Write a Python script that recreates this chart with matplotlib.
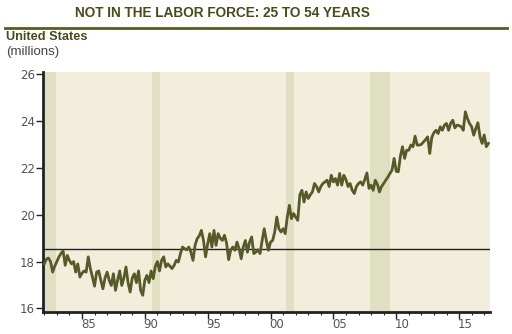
import numpy as np
import matplotlib.pyplot as plt
from matplotlib.ticker import MultipleLocator

# bi-monthly readings (millions), Jan 1982 onwards
start_year = 1982
vals = [
    17.9, 18.1, 18.15, 18.0, 17.55, 17.8,      # 1982
    18.0, 18.2, 18.35, 18.45, 17.84, 18.26,    # 1983
    18.05, 17.9, 18.0, 17.55, 17.9, 17.34,     # 1984
    17.5, 17.6, 17.55, 18.2, 17.7, 17.34,      # 1985
    16.95, 17.55, 17.6, 17.2, 16.84, 17.3,     # 1986
    17.55, 17.2, 16.98, 17.48, 16.77, 17.2,    # 1987
    17.6, 16.98, 17.3, 17.77, 17.1, 16.7,      # 1988
    17.3, 17.48, 17.1, 17.6, 16.77, 16.56,     # 1989
    17.2, 17.41, 17.1, 17.6, 17.27, 17.8,      # 1990
    18.0, 17.6, 18.05, 18.2, 17.77, 17.9,      # 1991
    17.8, 17.7, 17.84, 18.05, 17.98, 18.34,    # 1992
    18.62, 18.55, 18.5, 18.62, 18.4, 18.05,    # 1993
    18.7, 18.98, 19.1, 19.33, 18.9, 18.2,      # 1994
    18.76, 19.19, 18.62, 19.33, 18.69, 19.19,  # 1995
    19.0, 18.9, 19.12, 18.8, 18.08, 18.5,      # 1996
    18.62, 18.48, 18.83, 18.55, 18.12, 18.62,  # 1997
    18.9, 18.4, 18.83, 19.05, 18.34, 18.4,     # 1998
    18.5, 18.34, 18.9, 19.4, 18.9, 18.48,      # 1999
    18.83, 18.9, 19.26, 19.9, 19.4, 19.26,     # 2000
    19.4, 19.19, 19.9, 20.4, 19.83, 20.05,     # 2001
    19.9, 19.76, 20.85, 21.04, 20.54, 20.97,   # 2002
    20.69, 20.85, 20.97, 21.33, 21.2, 20.97,   # 2003
    21.2, 21.33, 21.4, 21.47, 21.2, 21.68,     # 2004
    21.4, 21.54, 21.26, 21.76, 21.26, 21.68,   # 2005
    21.5, 21.2, 21.33, 21.04, 20.9, 21.2,      # 2006
    21.33, 21.4, 21.26, 21.5, 21.78, 21.12,    # 2007
    21.26, 21.04, 21.47, 21.3, 20.97, 21.2,    # 2008
    21.33, 21.47, 21.6, 21.76, 21.9, 22.4,     # 2009
    21.85, 21.83, 22.5, 22.9, 22.4, 22.75,     # 2010
    22.75, 22.97, 22.9, 23.35, 22.97, 22.97,   # 2011
    23.0, 23.1, 23.2, 23.32, 22.61, 23.3,      # 2012
    23.5, 23.6, 23.46, 23.75, 23.6, 23.82,     # 2013
    23.89, 23.6, 23.9, 24.03, 23.7, 23.82,     # 2014
    23.8, 23.75, 23.6, 24.39, 24.1, 23.89,     # 2015
    23.75, 23.39, 23.68, 23.92, 23.32, 23.04,  # 2016
    23.4, 22.9, 23.04,                         # 2017
]
years = start_year + np.arange(len(vals)) / 6.0

# recessions (start, end)
rec_start = [1981.5, 1990.55, 2001.2, 2007.95]
rec_end = [1982.9, 1991.2, 2001.9, 2009.5]
ref_level = 18.54

tick_years = [1985, 1990, 1995, 2000, 2005, 2010, 2015]
tick_labels = ['85', '90', '95', '00', '05', '10', '15']

olive = '#4b4a1c'
bg = '#f3eedc'
rec_col = '#dfe0c1'
line_col = '#555a28'

fig = plt.figure(figsize=(5.12, 3.34), dpi=100)
ax = fig.add_axes([0.084, 0.066, 0.874, 0.718])
ax.set_facecolor(bg)

for a, b in zip(rec_start, rec_end):
    ax.axvspan(a, b, color=rec_col, lw=0, zorder=1)
ax.axhline(ref_level, color='#222222', lw=1.0, zorder=2)
ax.plot(years, vals, color=line_col, lw=2.0, zorder=3)

ax.set_xlim(1981.9, 2017.5)
ax.set_ylim(15.85, 26.08)
ax.set_yticks([16, 18, 20, 22, 24, 26])
ax.set_xticks(tick_years)
ax.set_xticklabels([])
ax.xaxis.set_minor_locator(MultipleLocator(1))

for s in ['top', 'right']:
    ax.spines[s].set_visible(False)
for s in ['left', 'bottom']:
    ax.spines[s].set_linewidth(2)
    ax.spines[s].set_color('#222222')

ax.tick_params(axis='y', length=5, width=1, color='#222222', labelsize=8.5, labelcolor='#555555', pad=1)
ax.tick_params(axis='x', which='major', length=5, width=1, color='#222222')
ax.tick_params(axis='x', which='minor', length=2.5, width=0.8, color='#222222')

for yr, lab in zip(tick_years, tick_labels):
    ax.annotate(lab, xy=(yr + 0.5, 0), xycoords=('data', 'axes fraction'),
                xytext=(0, -13), textcoords='offset pixels',
                ha='center', va='center', fontsize=8.5, color='#555555')

fig.text(222 / 512, 1 - 13 / 334, 'NOT IN THE LABOR FORCE: 25 TO 54 YEARS',
         ha='center', va='center', fontsize=9.8, fontweight='bold', color=olive,
         family='Liberation Sans')
fig.add_artist(plt.Line2D([5 / 512, 507 / 512], [1 - 28 / 334, 1 - 28 / 334],
                          color='#5a5a26', lw=2))
fig.text(6 / 512, 1 - 37.5 / 334, 'United States', ha='left', va='center',
         fontsize=9.2, fontweight='bold', color=olive, family='Liberation Sans')
fig.text(6 / 512, 1 - 52 / 334, '(millions)', ha='left', va='center',
         fontsize=9.5, color='#444444', family='Liberation Sans')

fig.savefig('out.png', dpi=100)
